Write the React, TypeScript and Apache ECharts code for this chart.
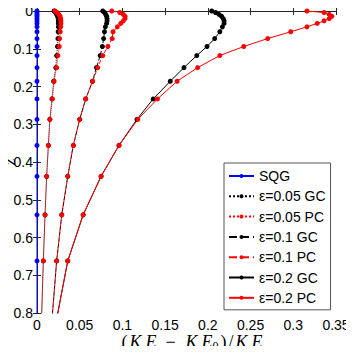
import React, { useEffect, useRef } from "react";
import * as echarts from "echarts";

// depth levels (z) shared by all runs
const Z_LEVELS = [0, 0.004, 0.009, 0.014, 0.02, 0.026, 0.033, 0.042, 0.055, 0.073, 0.094, 0.118, 0.15, 0.186, 0.233, 0.287, 0.356, 0.438, 0.54, 0.662, 0.81];

const SQG_X = [0, 0, 0, 0, 0, 0, 0, 0, 0, 0, 0, 0, 0, 0, 0, 0, 0, 0, 0, 0, 0];
const GC05_X = [0.02, 0.0215, 0.023, 0.024, 0.0248, 0.025, 0.025, 0.025, 0.0248, 0.0245, 0.024, 0.023, 0.022, 0.0195, 0.0175, 0.015, 0.0133, 0.0113, 0.0094, 0.0074, 0.0054];
const PC05_X = [0.021, 0.0235, 0.0255, 0.027, 0.0278, 0.028, 0.028, 0.0278, 0.0272, 0.0265, 0.026, 0.0245, 0.023, 0.02, 0.018, 0.0152, 0.0133, 0.0113, 0.0094, 0.0074, 0.0054];
const GC10_X = [0.077, 0.079, 0.0805, 0.0815, 0.082, 0.082, 0.0815, 0.08, 0.079, 0.078, 0.0765, 0.074, 0.0695, 0.065, 0.057, 0.05, 0.0425, 0.036, 0.029, 0.023, 0.0178];
const PC10_X = [0.0875, 0.097, 0.101, 0.103, 0.103, 0.101, 0.098, 0.094, 0.089, 0.088, 0.083, 0.077, 0.071, 0.065, 0.057, 0.05, 0.0425, 0.036, 0.029, 0.023, 0.0178];
const GC20_X = [0.2045, 0.209, 0.213, 0.216, 0.218, 0.219, 0.219, 0.217, 0.214, 0.208, 0.199, 0.187, 0.172, 0.156, 0.136, 0.117, 0.096, 0.075, 0.054, 0.036, 0.0235];
const PC20_X = [0.316, 0.336, 0.342, 0.345, 0.342, 0.336, 0.328, 0.316, 0.297, 0.27, 0.242, 0.214, 0.188, 0.164, 0.141, 0.118, 0.096, 0.075, 0.054, 0.036, 0.0235];

const SERIES_NAMES = ["SQG", "ε=0.05 GC", "ε=0.05 PC", "ε=0.1 GC", "ε=0.1 PC", "ε=0.2 GC", "ε=0.2 PC"];

export default function App() {
  const ref = useRef<HTMLDivElement>(null);
  useEffect(() => {
    if (!ref.current) return;
    const chart = echarts.init(ref.current, undefined, { renderer: "svg" });
    const mk = (name: string, xs: number[], color: string, type: any) => ({
      name,
      type: "line",
      data: xs.map((x, i) => [x, Z_LEVELS[i]]),
      symbol: "circle",
      symbolSize: 5,
      showSymbol: true,
      clip: true,
      lineStyle: { color, width: 1, type },
      itemStyle: { color },
      emphasis: { disabled: true },
    });
    const axisCol = "#262626";
    const font = "'Liberation Sans', Arial, sans-serif";
    const serif = "'Liberation Serif', serif";
    const fs = 18;
    const lh = 16;
    chart.setOption({
      animation: false,
      grid: { left: 37, top: 11, right: 18, bottom: 41, containLabel: false, outerBoundsMode: "none" },
      xAxis: [
        {
          type: "value",
          min: 0,
          max: 0.35,
          interval: 0.05,
          position: "bottom",
          axisLine: { lineStyle: { color: axisCol, width: 1 } },
          axisTick: { inside: true, length: 4, lineStyle: { color: axisCol } },
          splitLine: { show: false },
          axisLabel: { color: "#000", fontSize: 14, fontFamily: font, margin: 5 },
        },
        {
          type: "value",
          min: 0,
          max: 0.35,
          interval: 0.05,
          position: "top",
          axisLine: { lineStyle: { color: axisCol, width: 1 } },
          axisTick: { inside: true, length: 4, lineStyle: { color: axisCol } },
          axisLabel: { show: false },
          splitLine: { show: false },
        },
      ],
      yAxis: [
        {
          type: "value",
          min: 0,
          max: 0.8,
          interval: 0.1,
          inverse: true,
          position: "left",
          axisLine: { lineStyle: { color: axisCol, width: 1 } },
          axisTick: { inside: true, length: 4, lineStyle: { color: axisCol } },
          splitLine: { show: false },
          axisLabel: { color: "#000", fontSize: 14, fontFamily: font, margin: 4 },
        },
        {
          type: "value",
          min: 0,
          max: 0.8,
          interval: 0.1,
          inverse: true,
          position: "right",
          axisLine: { lineStyle: { color: axisCol, width: 1 } },
          axisTick: { inside: true, length: 4, lineStyle: { color: axisCol } },
          axisLabel: { show: false },
          splitLine: { show: false },
        },
      ],
      graphic: [
        {
          type: "text",
          x: 9,
          y: 162,
          rotation: Math.PI / 2,
          style: { text: "z", fontFamily: serif, fontStyle: "italic", fontSize: 17, lineHeight: 12, fill: "#000", align: "center", verticalAlign: "middle" },
        },
        {
          type: "text",
          x: 192,
          y: 342,
          style: {
            text: "{p1|(}{k|K}{e1|E}{m|−}{k|K}{e|E}{s|0}{p|)}{sl|/}{k|K}{e|E}",
            align: "center",
            verticalAlign: "middle",
            rich: {
              p1: { fontFamily: serif, fontSize: fs, fill: "#000", padding: [0, 2, 0, 0], lineHeight: lh },
              p: { fontFamily: serif, fontSize: fs, fill: "#000", lineHeight: lh },
              sl: { fontFamily: serif, fontSize: fs, fill: "#000", padding: [0, 2, 0, 2], lineHeight: lh },
              k: { fontFamily: serif, fontStyle: "italic", fontSize: fs, fill: "#000", padding: [0, 4, 0, 0], lineHeight: lh },
              e: { fontFamily: serif, fontStyle: "italic", fontSize: fs, fill: "#000", lineHeight: lh },
              e1: { fontFamily: serif, fontStyle: "italic", fontSize: fs, fill: "#000", padding: [0, 6, 0, 0], lineHeight: lh },
              m: { fontFamily: serif, fontSize: fs, fill: "#000", padding: [0, 10, 0, 3], lineHeight: lh },
              s: { fontFamily: serif, fontSize: 12, fill: "#000", padding: [7, 2, 0, 0], lineHeight: 10 },
            },
          },
        },
      ],
      legend: {
        orient: "vertical",
        left: 224,
        top: 163,
        backgroundColor: "#fff",
        borderColor: "#555",
        borderWidth: 1,
        padding: [6, 5, 5, 4],
        itemWidth: 25,
        itemHeight: 5,
        itemGap: 6.3,
        textStyle: { fontSize: 14, fontFamily: font, color: "#000", lineHeight: 14 },
        data: SERIES_NAMES,
      },
      series: [
        mk(SERIES_NAMES[0], SQG_X, "#0000ff", "solid"),
        mk(SERIES_NAMES[1], GC05_X, "#000000", "dotted"),
        mk(SERIES_NAMES[2], PC05_X, "#ff0000", "dotted"),
        mk(SERIES_NAMES[3], GC10_X, "#000000", "dashed"),
        mk(SERIES_NAMES[4], PC10_X, "#ff0000", "dashed"),
        mk(SERIES_NAMES[5], GC20_X, "#000000", "solid"),
        mk(SERIES_NAMES[6], PC20_X, "#ff0000", "solid"),
      ],
    });
    return () => chart.dispose();
  }, []);
  return <div ref={ref} style={{ width: 354, height: 354, margin: -8 }} />;
}
